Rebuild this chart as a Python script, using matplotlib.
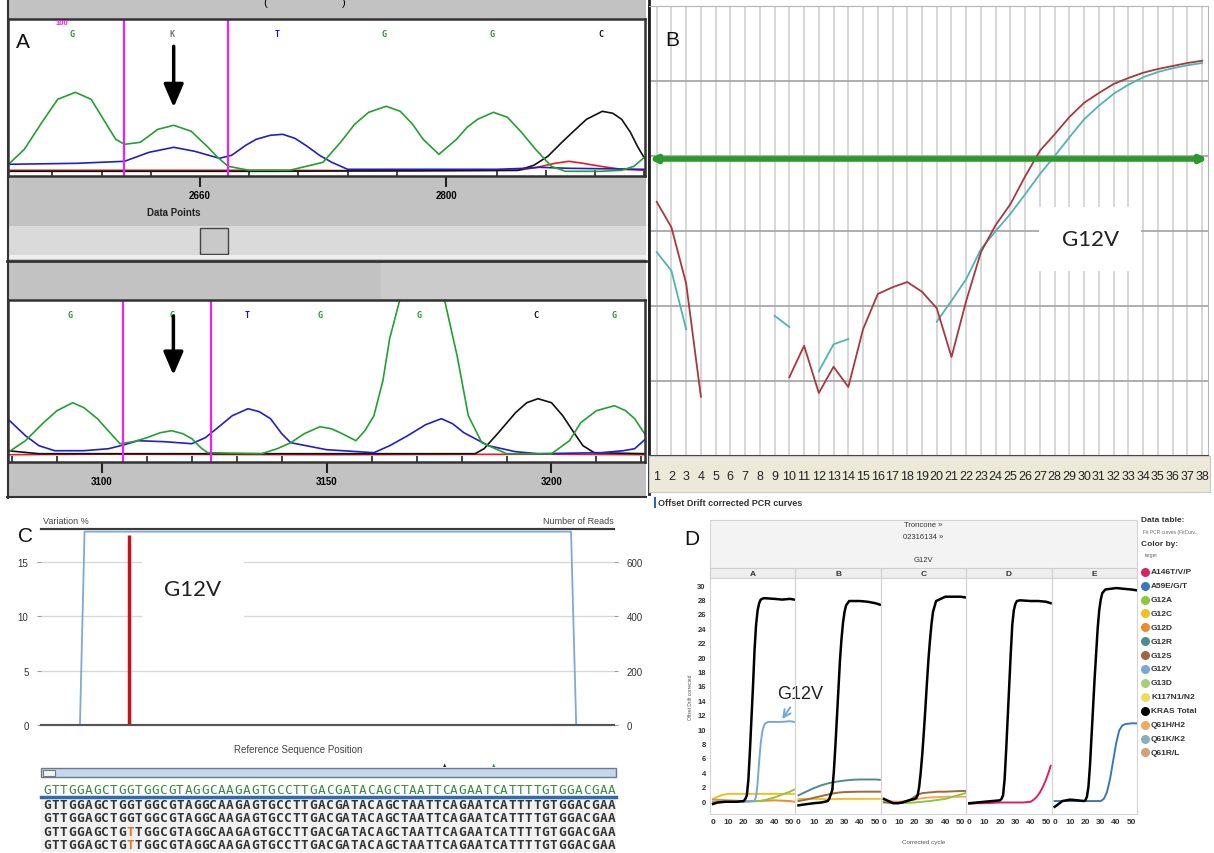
import numpy as np
import matplotlib
matplotlib.use('Agg')
import matplotlib.pyplot as plt
from matplotlib.patches import Rectangle

plt.rcParams['font.family'] = ['Liberation Sans', 'DejaVu Sans']
nan = np.nan

# ---------------- data ----------------
# A: Sanger traces (data point, signal)
a1_green_x = [2551, 2560, 2570, 2579, 2589, 2598, 2605, 2612, 2617, 2626, 2636, 2645, 2655, 2664, 2670, 2676, 2688, 2711,
              2730, 2740, 2748, 2756, 2766, 2774, 2781, 2787, 2796, 2806, 2812, 2818, 2827, 2835, 2843, 2851, 2860, 2868,
              2888, 2900, 2907, 2913]
a1_green_y = [8, 23, 50, 73, 80, 73, 53, 33, 28, 30, 43, 47, 41, 26, 15, 6, 2, 2,
              10, 30, 48, 60, 66, 61, 48, 33, 18, 33, 45, 53, 60, 55, 40, 23, 6, 1,
              1, 2, 6, 15]
a1_blue_x = [2551, 2590, 2617, 2631, 2645, 2657, 2671, 2678, 2686, 2692, 2700, 2707, 2714, 2721, 2728, 2735, 2744, 2829,
             2845, 2853, 2870, 2913]
a1_blue_y = [8, 9, 11, 20, 25, 21, 14, 17, 27, 33, 37, 38, 34, 26, 17, 10, 3, 3, 4, 5, 4, 3]
a1_black_x = [2551, 2700, 2841, 2850, 2858, 2866, 2872, 2880, 2889, 2895, 2900, 2905, 2909, 2913]
a1_black_y = [1, 1, 2, 7, 16, 30, 40, 53, 61, 59, 53, 40, 26, 14]
a1_red_x = [2551, 2700, 2780, 2841, 2852, 2862, 2870, 2878, 2888, 2900, 2913]
a1_red_y = [2, 2, 1.5, 2, 5, 9, 11, 9, 6, 3, 2]
a1_bases = ['G', 'K', 'T', 'G', 'G', 'C']
a1_base_pos = [2587, 2644, 2704, 2765, 2826, 2888]
a1_marks = [2617, 2676]
a1_major = [2660, 2800]
a1_minor = [2576, 2604, 2632, 2688, 2716, 2744, 2772, 2829, 2857, 2885, 2913]

a2_green_x = [3079, 3083, 3087, 3090, 3093.5, 3096, 3099, 3102, 3104, 3107, 3110, 3113, 3115.5, 3118, 3120, 3122, 3123.5,
              3135.5, 3139, 3142, 3145, 3148.5, 3151, 3153, 3156.5, 3158.5, 3160.5, 3162.5, 3164, 3166.5, 3171, 3176,
              3178, 3179, 3181.5, 3184.5, 3190, 3200, 3204, 3206.5, 3210, 3214, 3216.5, 3218.5, 3221]
a2_green_y = [3, 15, 33, 45, 53, 48, 37, 22, 12, 14, 18, 23, 25, 22, 17, 8, 3,
              2, 7, 13, 22, 29, 27, 23, 15, 25, 40, 75, 117, 160, 200, 160,
              120, 100, 40, 13, 2, 2, 15, 33, 45, 50, 45, 37, 20]
a2_blue_x = [3079, 3083, 3086, 3089.5, 3096, 3101.5, 3105, 3108, 3114, 3120, 3123, 3125.5, 3129, 3132.5, 3135, 3137.5,
             3140, 3142, 3150, 3160.5, 3164, 3168, 3172, 3175.5, 3178, 3180.5, 3186, 3192, 3197, 3211, 3216, 3218.5, 3221]
a2_blue_y = [37, 20, 10, 5, 5, 7, 11, 15, 14, 12, 18, 27, 40, 47, 44, 37,
             22, 13, 6, 3, 10, 20, 31, 37, 32, 23, 10, 4, 2, 3, 5, 7, 17]
a2_black_x = [3079, 3086, 3183, 3185, 3188, 3192, 3194.5, 3197, 3200, 3202.5, 3205, 3207, 3209.5, 3221]
a2_black_y = [5, 2, 2, 7, 22, 43, 53, 57, 53, 40, 23, 10, 3, 2]
a2_red_x = [3079, 3100, 3150, 3200, 3221]
a2_red_y = [1, 1.5, 1, 1.5, 1]
a2_bases = ['G', 'G', 'T', 'G', 'G', 'C', 'G']
a2_base_pos = [3093, 3115.6, 3132.3, 3148.4, 3170.6, 3196.5, 3213.8]
a2_marks = [3104.6, 3124.2]
a2_major = [3100, 3150, 3200]
a2_minor = [3080, 3090, 3110, 3120, 3130, 3140, 3160, 3170, 3180, 3190, 3210, 3220]

# B: real-time PCR curves, cycles 1-38
b_cycles = np.arange(1, 39)
b_red = [3.39, 3.05, 2.30, 0.79, nan, nan, nan, nan, nan, 1.05, 1.47, 0.84, 1.19, 0.92, 1.69, 2.16, 2.25, 2.32, 2.19,
         1.97, 1.32, 2.07, 2.72, 3.08, 3.36, 3.73, 4.07, 4.29, 4.52, 4.71, 4.84, 4.96, 5.04, 5.11, 5.16, 5.20, 5.24, 5.27]
b_cyan = [2.72, 2.47, 1.69, nan, nan, nan, nan, nan, 1.87, 1.72, nan, 1.13, 1.49, 1.56, nan, nan, nan, nan, nan,
          1.79, 2.07, 2.36, 2.76, 3.00, 3.23, 3.49, 3.76, 4.00, 4.25, 4.49, 4.67, 4.83, 4.95, 5.05, 5.12, 5.17, 5.21, 5.24]
b_threshold = 3.96

# C: NGS variation / reads
c_reads_x = [6.8, 7.6, 92.5, 93.4]
c_reads_y = [0, 713, 713, 0]
c_variant_pos = 15.3
c_variant_pct = 17.54
ref_seq = "GTTGGAGCTGGTGGCGTAGGCAAGAGTGCCTTGACGATACAGCTAATTCAGAATCATTTTGTGGACGAA"
reads = [
    "GTTGGAGCTGGTGGCGTAGGCAAGAGTGCCTTGACGATACAGCTAATTCAGAATCATTTTGTGGACGAA",
    "GTTGGAGCTGGTGGCGTAGGCAAGAGTGCCTTGACGATACAGCTAATTCAGAATCATTTTGTGGACGAA",
    "GTTGGAGCTGTTGGCGTAGGCAAGAGTGCCTTGACGATACAGCTAATTCAGAATCATTTTGTGGACGAA",
    "GTTGGAGCTGTTGGCGTAGGCAAGAGTGCCTTGACGATACAGCTAATTCAGAATCATTTTGTGGACGAA",
]

# D: trellis of PCR curves (corrected cycle, offset drift corrected signal)
legend_names = ['A146T/V/P', 'A59E/G/T', 'G12A', 'G12C', 'G12D', 'G12R', 'G12S', 'G12V', 'G13D', 'K117N1/N2',
                'KRAS Total', 'Q61H/H2', 'Q61K/K2', 'Q61R/L']
legend_colors = ['#dc2060', '#3a78b8', '#8cc63f', '#f0c020', '#ef8a2a', '#4e8a94', '#a2673f', '#78a8d8', '#a8d070',
                 '#f2da5a', '#000000', '#f4a860', '#88b0b8', '#d0a080']
col_letters = ['A', 'B', 'C', 'D', 'E']

dA_black_x = [0, 3, 8, 15, 20, 21, 22, 23, 24, 25, 26, 27, 28, 29, 30, 31, 33, 40, 45, 50, 53]
dA_black_y = [-0.4, -0.2, -0.1, -0.1, 0.0, 0.3, 0.8, 3.0, 7.0, 11.5, 16.0, 21.0, 24.5, 26.5, 27.5, 28.0, 28.2, 28.1, 28.0, 28.1, 28.0]
dA_g12v_x = [0, 10, 20, 27, 28, 29, 30, 31, 32, 33, 34, 36, 40, 45, 50, 53]
dA_g12v_y = [-0.1, 0.0, -0.1, 0.0, 0.6, 2.5, 5.5, 8.0, 9.6, 10.4, 10.8, 11.0, 11.0, 11.0, 11.1, 11.0]
dA_g12c_x = [0, 3, 6, 10, 20, 30, 40, 50, 53]
dA_g12c_y = [0.3, 0.6, 0.85, 1.0, 1.0, 1.0, 1.0, 1.0, 1.0]
dA_g12d_x = [0, 10, 20, 30, 40, 50, 53]
dA_g12d_y = [0.2, 0.1, 0.0, 0.0, 0.1, 0.0, -0.1]
dA_g12a_x = [0, 10, 20, 30, 35, 40, 45, 50, 53]
dA_g12a_y = [-0.2, -0.1, -0.1, 0.0, 0.2, 0.5, 0.9, 1.3, 1.6]

dB_black_x = [0, 3, 10, 15, 19, 20, 21, 22, 23, 24, 25, 26, 27, 28, 29, 30, 31, 33, 40, 45, 50, 53]
dB_black_y = [-0.6, -0.5, -0.3, -0.2, 0.0, 0.3, 0.9, 1.5, 4.0, 7.5, 11.5, 15.5, 19.5, 22.5, 24.8, 26.3, 27.2, 27.8, 27.8, 27.7, 27.5, 27.3]
dB_g12r_x = [0, 5, 10, 15, 20, 25, 30, 35, 40, 45, 50, 53]
dB_g12r_y = [0.8, 1.3, 1.8, 2.2, 2.5, 2.7, 2.85, 2.95, 3.0, 3.0, 3.0, 2.95]
dB_g12s_x = [0, 5, 10, 15, 20, 25, 30, 40, 50, 53]
dB_g12s_y = [0.0, 0.2, 0.45, 0.7, 0.95, 1.15, 1.25, 1.3, 1.3, 1.3]
dB_g12c_x = [0, 10, 20, 30, 40, 50, 53]
dB_g12c_y = [0.3, 0.3, 0.25, 0.3, 0.3, 0.3, 0.3]

dC_black_x = [0, 3, 6, 9, 12, 15, 18, 20, 21, 22, 23, 24, 25, 26, 27, 28, 29, 30, 31, 32, 34, 40, 45, 50, 53]
dC_black_y = [0.3, 0.0, -0.3, -0.3, -0.2, 0.0, 0.2, 0.3, 0.4, 0.8, 2.0, 4.0, 6.5, 9.5, 12.8, 16.3, 19.6, 22.3, 24.6,
              26.3, 27.8, 28.4, 28.4, 28.4, 28.3]
dC_g12s_x = [0, 10, 15, 18, 20, 22, 25, 30, 35, 40, 45, 50, 53]
dC_g12s_y = [-0.2, -0.3, 0.0, 0.3, 0.6, 0.9, 1.1, 1.2, 1.3, 1.3, 1.35, 1.4, 1.4]
dC_g12a_x = [0, 10, 20, 30, 40, 45, 50, 53]
dC_g12a_y = [-0.1, -0.3, -0.2, 0.0, 0.3, 0.6, 0.9, 1.1]
dC_q61h_x = [0, 10, 20, 25, 30, 40, 50, 53]
dC_q61h_y = [0.0, -0.1, 0.2, 0.4, 0.5, 0.6, 0.6, 0.6]

dD_black_x = [0, 5, 10, 15, 20, 21, 22, 23, 24, 25, 26, 27, 28, 29, 30, 31, 33, 40, 45, 50, 53]
dD_black_y = [-0.3, -0.2, -0.1, 0.0, 0.1, 0.3, 0.8, 3.0, 7.0, 11.5, 16.0, 20.5, 24.5, 26.5, 27.4, 27.8, 27.9, 27.8, 27.8, 27.7, 27.5]
dD_a146_x = [0, 5, 10, 20, 30, 35, 40, 42, 44, 46, 48, 50, 52, 53]
dD_a146_y = [-0.4, -0.3, -0.3, -0.2, -0.2, -0.2, -0.1, 0.2, 0.6, 1.2, 2.0, 3.0, 4.2, 4.9]

dE_black_x = [0, 2, 5, 10, 15, 19, 20, 21, 22, 23, 24, 25, 26, 27, 28, 29, 30, 31, 33, 40, 45, 50, 53]
dE_black_y = [-0.8, -0.5, 0.0, 0.2, 0.1, 0.0, 0.1, 0.6, 2.0, 5.0, 9.0, 13.0, 17.0, 20.5, 24.0, 26.5, 28.0, 28.9, 29.4,
              29.6, 29.5, 29.4, 29.3]
dE_a59_x = [0, 10, 20, 30, 32, 34, 36, 38, 40, 42, 44, 46, 50, 53]
dE_a59_y = [0.0, 0.0, 0.0, 0.0, 0.3, 1.2, 3.0, 5.5, 8.0, 9.8, 10.5, 10.7, 10.8, 10.8]

d_columns = [
    [('G12C', dA_g12c_x, dA_g12c_y), ('G12D', dA_g12d_x, dA_g12d_y), ('G12A', dA_g12a_x, dA_g12a_y),
     ('G12V', dA_g12v_x, dA_g12v_y), ('KRAS Total', dA_black_x, dA_black_y)],
    [('G12C', dB_g12c_x, dB_g12c_y), ('G12S', dB_g12s_x, dB_g12s_y), ('G12R', dB_g12r_x, dB_g12r_y),
     ('KRAS Total', dB_black_x, dB_black_y)],
    [('Q61H/H2', dC_q61h_x, dC_q61h_y), ('G12A', dC_g12a_x, dC_g12a_y), ('G12S', dC_g12s_x, dC_g12s_y),
     ('KRAS Total', dC_black_x, dC_black_y)],
    [('A146T/V/P', dD_a146_x, dD_a146_y), ('KRAS Total', dD_black_x, dD_black_y)],
    [('A59E/G/T', dE_a59_x, dE_a59_y), ('KRAS Total', dE_black_x, dE_black_y)],
]

# ---------------- figure ----------------
W, H = 1214, 854
fig = plt.figure(figsize=(W / 100, H / 100), dpi=100)


def px_axes(x0, y0, x1, y1):
    return fig.add_axes([x0 / W, 1 - y1 / H, (x1 - x0) / W, (y1 - y0) / H])


bg = px_axes(0, 0, W, H)
bg.set_xlim(0, W)
bg.set_ylim(H, 0)
bg.axis('off')


def box(x0, y0, x1, y1, fc, ec='none', lw=0):
    bg.add_patch(Rectangle((x0, y0), x1 - x0, y1 - y0, fc=fc, ec=ec, lw=lw))


# panel A chrome
box(7, 0, 646, 499, '#c2c2c2')
box(7, 227, 646, 256, '#dadada')
box(200, 229, 228, 255, '#c9c9c9', ec='#444444', lw=1)
box(7, 256, 646, 260, '#eeeeee')
box(381, 264, 646, 300, '#cbcbcb')
bg.plot([7, 646], [262, 262], color='#333333', lw=2)
bg.plot([7.5, 7.5], [0, 499], color='#333333', lw=1.5)
bg.plot([7, 646], [498, 498], color='#333333', lw=1.5)
bg.text(265, 3, '(', fontsize=8, ha='center', va='center')
bg.text(344, 3, ')', fontsize=8, ha='center', va='center')
bg.text(174, 213, 'Data Points', fontsize=7, weight='bold', ha='center', va='center', color='#222222')

base_colors = {'G': '#1f9a2a', 'T': '#1515cc', 'C': '#111111', 'K': '#777777'}


def chromatogram(ax, traces, xlim, ylim, marks, bases, base_pos, major, minor, arrow):
    ax.set_xlim(*xlim)
    ax.set_ylim(*ylim)
    for xs, ys, c in traces:
        ax.plot(xs, ys, color=c, lw=1.2)
    for m in marks:
        ax.axvline(m, color='#ee22ee', lw=1.6)
    for b, p in zip(bases, base_pos):
        ax.text(p, 0.91, b, color=base_colors[b], fontsize=6, weight='bold', ha='center', va='center',
                transform=ax.get_xaxis_transform(), family=['DejaVu Sans Mono'])
    ax.annotate('', xy=(arrow[0], arrow[2]), xytext=(arrow[0], arrow[1]),
                arrowprops=dict(arrowstyle='-|>,head_width=0.3,head_length=0.7', color='black', lw=2.5,
                                mutation_scale=20, shrinkA=0, shrinkB=0))
    ax.set_yticks([])
    ax.set_xticks(major)
    ax.set_xticks(minor, minor=True)
    ax.tick_params(which='major', direction='out', length=8, width=1.5, pad=2, labelsize=7, color='#222222')
    ax.tick_params(which='minor', direction='in', length=4.5, width=1.2, color='#222222')
    for lab in ax.get_xticklabels():
        lab.set_fontweight('bold')
    for s in ax.spines.values():
        s.set_color('#333333')
        s.set_linewidth(1.8)


ax_a1 = px_axes(7.5, 20, 645, 177)
chromatogram(ax_a1, [(a1_red_x, a1_red_y, '#e02020'), (a1_black_x, a1_black_y, '#111111'),
                     (a1_blue_x, a1_blue_y, '#2020c8'), (a1_green_x, a1_green_y, '#22a030')],
             (2550.4, 2913.3), (-3.7, 153.3), a1_marks, a1_bases, a1_base_pos, a1_major, a1_minor,
             (2645, 126, 65))
ax_a1.text(2581.5, 0.975, '100', color='#ee22ee', fontsize=5.5, weight='bold', ha='center', va='center',
           transform=ax_a1.get_xaxis_transform())

ax_a2 = px_axes(7.5, 301, 645, 463)
chromatogram(ax_a2, [(a2_red_x, a2_red_y, '#e02020'), (a2_black_x, a2_black_y, '#111111'),
                     (a2_blue_x, a2_blue_y, '#2020c8'), (a2_green_x, a2_green_y, '#22a030')],
             (3079, 3220.8), (-6.3, 155.7), a2_marks, a2_bases, a2_base_pos, a2_major, a2_minor,
             (3115.9, 139.7, 80.7))
ax_a2.set_xticklabels(['3100', '3150', '3200'])

# panel B
ax_b = px_axes(649, 7, 1208, 457)
ax_b.set_xlim(0.48, 38.4)
ax_b.set_ylim(0, 6)
for c in b_cycles:
    ax_b.axvline(c, color='#cdcdcd', lw=1.1, zorder=0)
for v in range(1, 6):
    ax_b.axhline(v, color='#a8a8a8', lw=1.3, zorder=0)
ax_b.plot(b_cycles, b_cyan, color='#4fb3b8', lw=1.3)
ax_b.plot(b_cycles, b_red, color='#a8383d', lw=1.3)
ax_b.annotate('', xy=(38.38, b_threshold), xytext=(0.5, b_threshold),
              arrowprops=dict(arrowstyle='<|-|>', color='#2a9a2a', lw=4, mutation_scale=9, shrinkA=0, shrinkB=0))
ax_b.text(30.4, 2.89, 'G12V', fontsize=16, family=['Lato', 'DejaVu Sans'], color='#222222', ha='center', va='center',
          bbox=dict(boxstyle='square,pad=1.0', fc='white', ec='none'), zorder=3)
ax_b.set_xticks([])
ax_b.set_yticks([])
ax_b.spines['left'].set_color('#202020')
ax_b.spines['left'].set_linewidth(2)
ax_b.spines['bottom'].set_color('#404040')
ax_b.spines['bottom'].set_linewidth(1.5)
ax_b.spines['top'].set_color('#b5b5b5')
ax_b.spines['right'].set_color('#b5b5b5')

ax_bs = px_axes(649, 457, 1210, 493)
ax_bs.set_facecolor('#ede9d8')
ax_bs.set_xlim(0.48, 38.54)
ax_bs.set_ylim(0, 1)
for c in b_cycles:
    ax_bs.text(c, 0.45, str(c), ha='center', va='center', fontsize=9, color='#222222')
ax_bs.set_xticks([])
ax_bs.set_yticks([])
for s in ax_bs.spines.values():
    s.set_color('#c8c8c8')
bg.plot([648.5, 648.5], [0, 495], color='#222222', lw=2)
bg.plot([655, 655], [499, 508], color='#3060c0', lw=1.5)
bg.text(658, 504, 'Offset Drift corrected PCR curves', fontsize=6.5, weight='bold', color='#333333', va='center')

# panel C
ax_c = px_axes(41, 530, 614, 725.7)
ax_c.set_xlim(0, 100)
ax_c.set_ylim(0, 18.07)
for v in [5, 10, 15]:
    ax_c.axhline(v, color='#d8d8d8', lw=1, zorder=0)
ax_c.vlines(c_variant_pos, 0, c_variant_pct, color='#c81414', lw=2.5, zorder=4)
ax_c.text(26.5, 12.5, 'G12V', fontsize=16, family=['Lato', 'DejaVu Sans'], color='#222222', ha='center',
          va='center', bbox=dict(boxstyle='square,pad=1.0', fc='white', ec='none'), zorder=3)
ax_c2 = ax_c.twinx()
ax_c2.set_ylim(0, 18.07 * 40)
ax_c2.plot(c_reads_x, c_reads_y, color='#7eaad4', lw=1.3)
ax_c.set_xticks([])
ax_c.set_yticks([0, 5, 10, 15])
ax_c2.set_yticks([0, 200, 400, 600])
for a in (ax_c, ax_c2):
    a.tick_params(length=3, color='#999999', labelsize=7, labelcolor='#333333', pad=6)
    for side in ['left', 'right']:
        a.spines[side].set_visible(False)
    a.spines['top'].set_color('#3a3a3a')
    a.spines['top'].set_linewidth(1.5)
    a.spines['bottom'].set_color('#555555')
    a.spines['bottom'].set_linewidth(1.5)
bg.text(43, 522, 'Variation %', fontsize=6.5, color='#444444', va='center')
bg.text(614, 522, 'Number of Reads', fontsize=6.5, color='#444444', va='center', ha='right')
bg.text(298, 750, 'Reference Sequence Position', fontsize=7, color='#444444', ha='center', va='center')

# sequence table
box(41, 769, 616, 778, '#c6d6ec', ec='#6a7a90', lw=1)
box(43, 770.5, 55, 777, '#f4f4f4', ec='#777777', lw=0.8)
box(41, 799, 616, 853, '#f1f1f1')
bg.plot([41, 616], [797.5, 797.5], color='#2e6bb0', lw=2.5)
ax_s = px_axes(43, 781, 616, 853)
ax_s.set_xlim(0, len(ref_seq))
ax_s.set_ylim(3.58, -1.88)
ax_s.axis('off')
seq_font = ['DejaVu Sans Mono']
for i, ch in enumerate(ref_seq):
    ax_s.text(i + 0.5, -1.19, ch, color='#3a8a3a', fontsize=9.2, ha='center', va='center', family=seq_font)
for r, read in enumerate(reads):
    for i, ch in enumerate(read):
        mut = ch != ref_seq[i]
        ax_s.text(i + 0.5, r, ch, color='#e8731c' if mut else '#333333', fontsize=9.2, ha='center', va='center',
                  family=seq_font, weight='bold')
ax_s.text(48.4, -3.08, '\u25b2', fontsize=4, color='#222222', ha='center', va='center', clip_on=False)
ax_s.text(54.3, -3.08, '\u25b2', fontsize=4, color='#3a9a3a', ha='center', va='center', clip_on=False)

# panel D
d_left, d_right = 710, 1137
col_w = (d_right - d_left) / 5
box(d_left, 521, d_right, 569, '#f3f3f3', ec='#d4d4d4', lw=0.8)
box(d_left, 569, d_right, 579, '#eeeeee', ec='#cfcfcf', lw=0.8)
mid = (d_left + d_right) / 2
bg.text(mid, 526, 'Troncone \u00bb', fontsize=5.5, ha='center', va='center', color='#333333')
bg.text(mid, 538, '02316134 \u00bb', fontsize=5.5, ha='center', va='center', color='#333333')
bg.text(mid, 561, 'G12V', fontsize=5.5, ha='center', va='center', color='#333333')
color_of = dict(zip(legend_names, legend_colors))
for i, letter in enumerate(col_letters):
    x0 = d_left + col_w * i
    if i:
        bg.plot([x0, x0], [569, 579], color='#cfcfcf', lw=0.8)
    bg.text(x0 + col_w / 2, 574.5, letter, fontsize=6, weight='bold', ha='center', va='center', color='#333333')
    ax = px_axes(x0, 579, x0 + col_w, 815)
    ax.set_facecolor('none')
    ax.set_xlim(-2, 53.6)
    ax.set_ylim(-1.8, 31)
    for name, xs, ys in d_columns[i]:
        ax.plot(xs, ys, color=color_of[name], lw=1.8 if name == 'KRAS Total' else 1.4)
    ax.set_xticks([0, 10, 20, 30, 40, 50])
    ax.tick_params(length=0, labelsize=6, pad=3, labelcolor='#333333')
    for lab in ax.get_xticklabels():
        lab.set_fontweight('bold')
    if i == 0:
        ax.set_yticks(range(0, 31, 2))
        ax.tick_params(axis='y', labelsize=5.5, pad=3)
        for lab in ax.get_yticklabels():
            lab.set_fontweight('bold')
        ax.annotate('G12V', xy=(45, 11.4), xytext=(56.4, 14.9), fontsize=13, color='#222222', ha='center',
                    va='center', annotation_clip=False,
                    arrowprops=dict(arrowstyle='->', color='#6ea6d6', lw=1.4, shrinkB=0))
    else:
        ax.set_yticks([])
    for s in ax.spines.values():
        s.set_color('#d4d4d4')
        s.set_linewidth(0.8)
bg.text(mid, 843, 'Corrected cycle', fontsize=4.5, ha='center', va='center', color='#555555')
bg.text(690, 697, 'Offset Drift corrected', fontsize=3.5, rotation=90, ha='center', va='center', color='#555555')

# legend
bg.text(1141, 521, 'Data table:', fontsize=6, weight='bold', color='#333333', va='center')
bg.text(1143, 533, 'Fit PCR curves (FitCurv...', fontsize=3.5, color='#666666', va='center')
bg.text(1141, 545, 'Color by:', fontsize=6, weight='bold', color='#333333', va='center')
bg.text(1145, 556, 'target', fontsize=3.5, color='#666666', va='center')
for k, (name, col) in enumerate(zip(legend_names, legend_colors)):
    y = 572.7 + 13.9 * k
    bg.scatter([1145], [y], s=30, color=col, zorder=3)
    bg.text(1151, y, name, fontsize=6, weight='bold', color='#333333', va='center')

# panel letters on an overlay so they sit above every panel
top = px_axes(0, 0, W, H)
top.set_xlim(0, W)
top.set_ylim(H, 0)
top.axis('off')
top.patch.set_visible(False)
for letter, (x, y) in zip('ABCD', [(23, 43), (672, 41), (25.5, 537), (692, 540)]):
    top.text(x, y, letter, fontsize=15, ha='center', va='center', color='#111111')

fig.savefig('out.png', dpi=100)
